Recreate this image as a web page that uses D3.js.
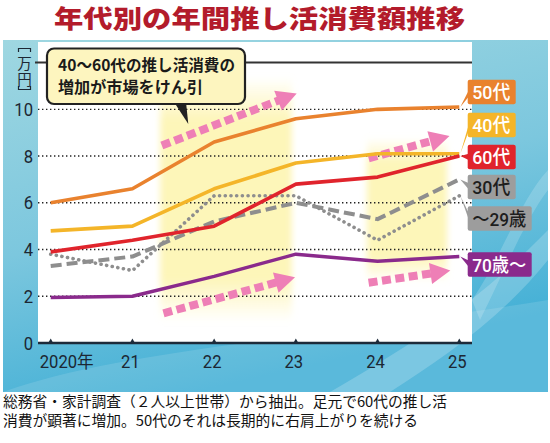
<!DOCTYPE html>
<html><head><meta charset="utf-8">
<script src="https://cdn.jsdelivr.net/npm/d3@7"></script>
<style>body{margin:0;background:#fff}svg{display:block}</style>
</head><body><svg id="c" width="550" height="443"></svg>
<script>
// ---- data ----
const years = [2020, 2021, 2022, 2023, 2024, 2025];
const xTickLabels = ["2020年", "21", "22", "23", "24", "25"];
const yTicks = [0, 2, 4, 6, 8, 10];
const s50 = [6.0, 6.6, 8.6, 9.6, 10.0, 10.1];
const s40 = [4.8, 5.0, 6.6, 7.7, 8.1, 8.1];
const s60 = [3.9, 4.4, 5.0, 6.8, 7.1, 8.0];
const s30 = [3.3, 3.7, 5.2, 6.0, 5.3, 7.0];
const s29 = [3.8, 3.1, 6.3, 6.3, 4.4, 6.3];
const s70 = [1.95, 2.0, 2.85, 3.8, 3.5, 3.7];
const seriesNames = ["50代", "40代", "60代", "30代", "～29歳", "70歳～"];
const title = "年代別の年間推し活消費額推移";
const unitLabel = "万円";
const calloutLines = ["40～60代の推し活消費の", "増加が市場をけん引"];
const noteLines = ["総務省・家計調査（２人以上世帯）から抽出。足元で60代の推し活",
                   "消費が顕著に増加。50代のそれは長期的に右肩上がりを続ける"];
// highlight bands [yearFrom, yearTo, valueTop, valueBottom]
const bands = [[2021.34, 2022.95, 11.4, 0.9], [2023.87, 2024.85, 8.8, 2.6]];
// trend arrows [year0, value0, year1, value1]
const arrows = [[2021.36, 8.45, 2023.01, 10.68], [2021.38, 1.27, 2022.99, 2.81],
                [2023.89, 7.9, 2024.88, 8.86], [2023.89, 2.58, 2024.89, 3.1]];

// ---- styles ----
const series = [
  {v: s29, color: "#8e8e8e", w: 3.6, dash: "0.1,5.6", cap: "round"},
  {v: s30, color: "#8e8e8e", w: 4, dash: "11,5", cap: "butt"},
  {v: s70, color: "#8a2a8c", w: 3.4},
  {v: s40, color: "#f4b529", w: 3.6},
  {v: s50, color: "#e9822e", w: 3.6},
  {v: s60, color: "#e0242c", w: 3.6}
];
const labelStyle = [
  {v: s50, fill: "#e9822e", text: "#fff", cy: 92, w: 48},
  {v: s40, fill: "#f4b529", text: "#fff", cy: 125, w: 48},
  {v: s60, fill: "#e0242c", text: "#fff", cy: 157, w: 48},
  {v: s30, fill: "#9d9d9d", text: "#1e1e1e", cy: 187, w: 48},
  {v: s29, fill: "#9d9d9d", text: "#1e1e1e", cy: 218.5, w: 64},
  {v: s70, fill: "#8a2a8c", text: "#fff", cy: 264.5, w: 64}
];

const svg = d3.select("#c");
const x = d3.scaleLinear().domain([2020, 2025]).range([50.7, 459.3]);
const y = d3.scaleLinear().domain([0, 12]).range([343, 62.6]);
const plotL = 38, plotR = 472;

const defs = svg.append("defs");
const bg = defs.append("linearGradient").attr("id", "bg").attr("x1", 0).attr("y1", 0).attr("x2", 0.35).attr("y2", 1);
bg.append("stop").attr("offset", 0).attr("stop-color", "#9fd7e1");
bg.append("stop").attr("offset", 0.55).attr("stop-color", "#7cc7de");
bg.append("stop").attr("offset", 1).attr("stop-color", "#44b0d6");
const bandG = defs.append("linearGradient").attr("id", "bandg").attr("x1", 0).attr("y1", 0).attr("x2", 0).attr("y2", 1);
bandG.append("stop").attr("offset", 0).attr("stop-color", "#fdf5b5").attr("stop-opacity", 0);
bandG.append("stop").attr("offset", 0.18).attr("stop-color", "#fdf5b5").attr("stop-opacity", 0.95);
bandG.append("stop").attr("offset", 0.82).attr("stop-color", "#fdf5b5").attr("stop-opacity", 0.95);
bandG.append("stop").attr("offset", 1).attr("stop-color", "#fdf5b5").attr("stop-opacity", 0);
defs.append("filter").attr("id", "blur").attr("x", "-20%").attr("y", "-20%").attr("width", "140%").attr("height", "140%")
  .append("feGaussianBlur").attr("stdDeviation", 3);

// title
svg.append("text").attr("x", 259.5).attr("y", 28).attr("text-anchor", "middle")
  .attr("font-family", "'Noto Sans CJK JP'").attr("font-weight", 900).attr("font-size", 25)
  .attr("fill", "#b31b2b").attr("textLength", 411).attr("lengthAdjust", "spacingAndGlyphs").text(title);

// background panel
svg.append("rect").attr("x", 3).attr("y", 40).attr("width", 545).attr("height", 352).attr("fill", "url(#bg)");
// decorative waves
svg.append("path").attr("d", "M3,392 C120,350 300,340 548,300 L548,392 Z").attr("fill", "#ffffff").attr("opacity", 0.12);
svg.append("path").attr("d", "M330,392 C420,340 480,300 548,230 L548,260 C500,320 440,360 390,392 Z").attr("fill", "#ffffff").attr("opacity", 0.2);
svg.append("path").attr("d", "M472,300 C500,260 520,200 548,170 L548,190 C525,220 505,270 480,320 Z").attr("fill", "#ffffff").attr("opacity", 0.18);

// plot area
svg.append("rect").attr("x", plotL).attr("y", 42).attr("width", plotR - plotL).attr("height", 343 - 42).attr("fill", "#fff");

// bands
svg.append("g").attr("filter", "url(#blur)").selectAll("rect").data(bands).join("rect")
  .attr("x", d => x(d[0])).attr("width", d => x(d[1]) - x(d[0]))
  .attr("y", d => y(d[2])).attr("height", d => y(d[3]) - y(d[2]))
  .attr("fill", "url(#bandg)");

// grid
svg.append("g").selectAll("line").data(yTicks.filter(d => d > 0)).join("line")
  .attr("x1", plotL).attr("x2", plotR).attr("y1", d => y(d)).attr("y2", d => y(d))
  .attr("stroke", "#222").attr("stroke-width", 1.4).attr("stroke-dasharray", "1.4,2.6");
svg.append("line").attr("x1", 35).attr("x2", plotR).attr("y1", y(12)).attr("y2", y(12))
  .attr("stroke", "#333").attr("stroke-width", 2);

// y tick labels
svg.append("g").selectAll("text").data(yTicks).join("text")
  .attr("transform", d => `translate(33,${y(d) + 6.5}) scale(0.9,1)`)
  .attr("text-anchor", "end").attr("font-family", "Roboto").attr("font-size", 18.5)
  .attr("fill", "#1c2733").text(d => d);

// unit label 〔万円〕 (vertical)
const unit = svg.append("g").attr("fill", "none").attr("stroke", "#1c2733").attr("stroke-width", 1.2);
unit.append("path").attr("d", "M18.5,52 L18.5,48.5 L30.5,48.5 L30.5,52");
unit.append("path").attr("d", "M18.5,86 L18.5,89.5 L30.5,89.5 L30.5,86");
svg.append("text").attr("x", 24.5).attr("y", 56).attr("font-family", "'Noto Sans CJK JP'")
  .style("writing-mode", "vertical-rl").attr("font-size", 14.5).attr("letter-spacing", 1.5)
  .attr("fill", "#1c2733").text(unitLabel);

// arrows
const ag = svg.append("g");
arrows.forEach(a => {
  const x0 = x(a[0]), y0 = y(a[1]), x1 = x(a[2]), y1 = y(a[3]);
  const dx = x1 - x0, dy = y1 - y0, L = Math.hypot(dx, dy), ux = dx / L, uy = dy / L;
  const hl = 20, hw = 10.5;
  const bx = x1 - ux * hl, by = y1 - uy * hl;
  ag.append("line").attr("x1", x0).attr("y1", y0).attr("x2", bx + ux * 2).attr("y2", by + uy * 2)
    .attr("stroke", "#ee7fb6").attr("stroke-width", 8).attr("stroke-dasharray", "9,4.5");
  ag.append("path").attr("d", `M${x1},${y1} L${bx - uy * hw},${by + ux * hw} L${bx + uy * hw},${by - ux * hw} Z`)
    .attr("fill", "#ee7fb6");
});

// lines
const line = d3.line().x((d, i) => x(years[i])).y(d => y(d));
svg.append("g").selectAll("path").data(series).join("path")
  .attr("d", d => line(d.v)).attr("fill", "none").attr("stroke", d => d.color)
  .attr("stroke-width", d => d.w).attr("stroke-dasharray", d => d.dash || null)
  .attr("stroke-linecap", d => d.cap || "butt").attr("stroke-linejoin", "round");

// x axis
svg.append("line").attr("x1", plotL).attr("x2", plotR).attr("y1", y(0)).attr("y2", y(0))
  .attr("stroke", "#1d2b3a").attr("stroke-width", 2.4);
svg.append("g").selectAll("path").data(years).join("path")
  .attr("d", d => `M${x(d) - 2.5},${y(0)} L${x(d)},${y(0) - 4.5} L${x(d) + 2.5},${y(0)} Z`).attr("fill", "#1d2b3a");
svg.append("g").selectAll("text").data(years).join("text")
  .attr("transform", (d, i) => i === 0 ? `translate(${x(d) - 11},367.5) scale(0.9,1)` : `translate(${x(d) - 2},367.5) scale(0.9,1)`)
  .attr("text-anchor", (d, i) => i === 0 ? "start" : "middle")
  .attr("font-family", "Roboto, 'Noto Sans CJK JP'").attr("font-size", 18.5).attr("fill", "#1c2733")
  .text((d, i) => xTickLabels[i]);

// callout
svg.append("path").attr("d", "M174,102 L188.3,124 L186,102 Z").attr("fill", "#222");
svg.append("rect").attr("x", 47).attr("y", 48.5).attr("width", 198).attr("height", 55.5).attr("rx", 7)
  .attr("fill", "#fdf5bf").attr("stroke", "#222").attr("stroke-width", 2.2);
const ct = svg.append("text").attr("font-family", "'Noto Sans CJK JP'")
  .attr("font-weight", 700).attr("font-size", 16).attr("fill", "#1a1a1a");
ct.selectAll("tspan").data(calloutLines).join("tspan")
  .attr("x", 58).attr("y", (d, i) => 71 + i * 22)
  .attr("textLength", (d, i) => i === 0 ? 177 : 145).attr("lengthAdjust", "spacingAndGlyphs").text(d => d);

// series labels
const boxX = 467.7, endX = x(2025);
const lg = svg.append("g").selectAll("g").data(labelStyle).join("g");
lg.append("path").attr("d", d => {
  const ey = y(d.v[d.v.length - 1]);
  return `M${endX + 1},${ey} L${boxX + 2},${d.cy - 3.5} L${boxX + 2},${d.cy + 3.5} Z`;
}).attr("fill", d => d.fill);
lg.append("rect").attr("x", boxX).attr("y", d => d.cy - 12.3).attr("width", d => d.w).attr("height", 24.6)
  .attr("rx", 2).attr("fill", d => d.fill);
lg.append("text").attr("x", boxX + 4.5).attr("y", d => d.cy + 7.2)
  .attr("font-family", "Roboto, 'Noto Sans CJK JP'").attr("font-weight", 500).attr("font-size", 19)
  .attr("fill", d => d.text).attr("textLength", d => d.w - 10).attr("lengthAdjust", "spacingAndGlyphs")
  .text((d, i) => seriesNames[i]);

// footnote
const nt = svg.append("text").attr("font-family", "'Noto Sans CJK JP'").attr("font-size", 14.5).attr("fill", "#111");
nt.selectAll("tspan").data(noteLines).join("tspan")
  .attr("x", 3).attr("y", (d, i) => 406.5 + i * 19.5)
  .attr("textLength", (d, i) => i === 0 ? 444 : 415).attr("lengthAdjust", "spacingAndGlyphs").text(d => d);
</script></body></html>
